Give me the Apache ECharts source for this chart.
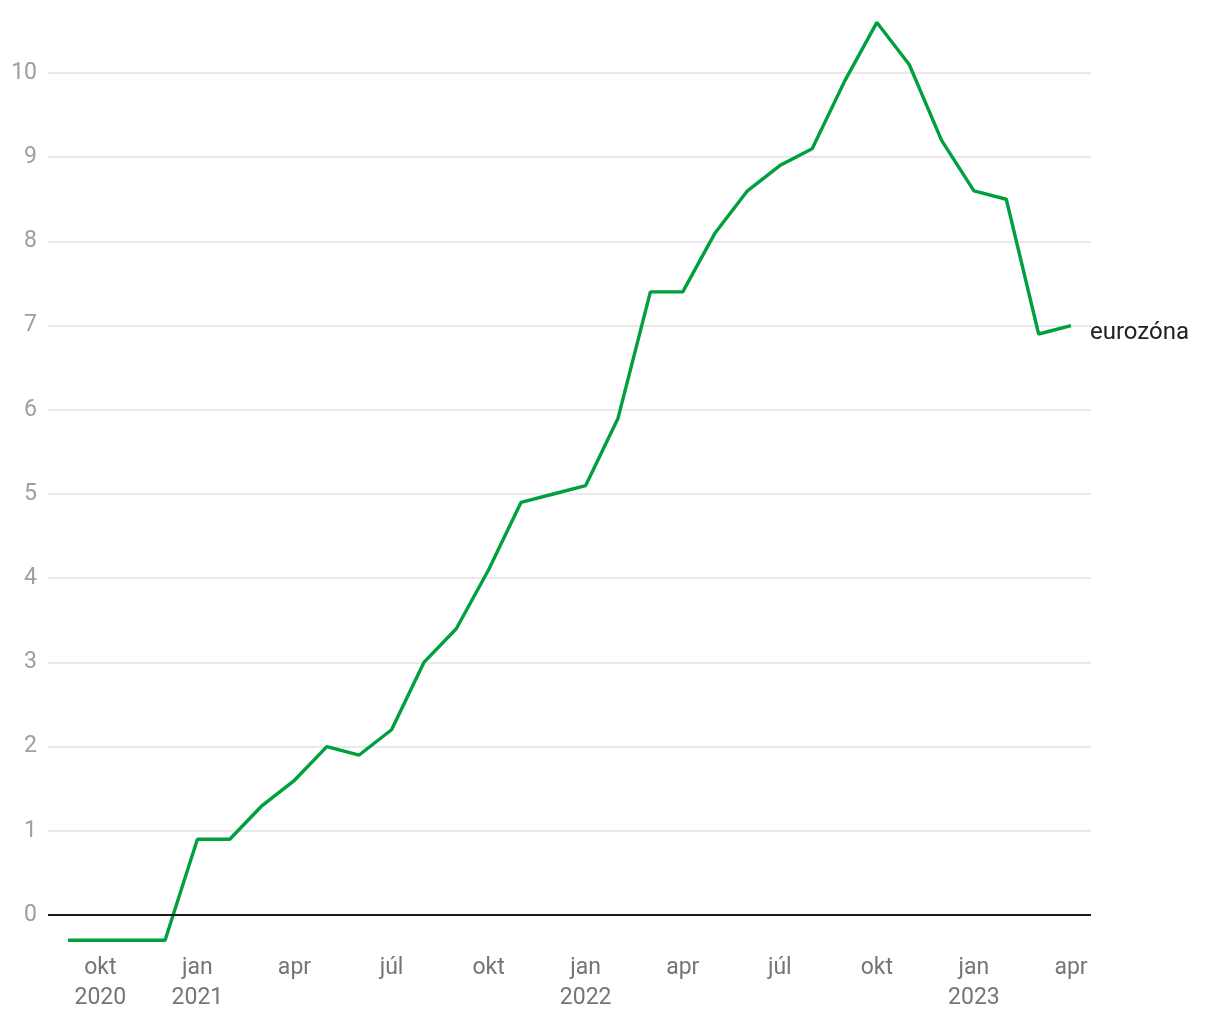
<!DOCTYPE html>
<html>
<head>
<meta charset="utf-8">
<script src="https://cdn.jsdelivr.net/npm/echarts@6/dist/echarts.min.js"></script>
<style>
html,body{margin:0;padding:0;background:#fff;}
#chart{width:1220px;height:1020px;}
</style>
</head>
<body>
<div id="chart"></div>
<script>
// Months Sep 2020 .. Apr 2023 ; index relative to Oct 2020 (okt 2020 = 0)
const months = ['2020-09','2020-10','2020-11','2020-12','2021-01','2021-02','2021-03','2021-04','2021-05','2021-06','2021-07','2021-08','2021-09','2021-10','2021-11','2021-12','2022-01','2022-02','2022-03','2022-04','2022-05','2022-06','2022-07','2022-08','2022-09','2022-10','2022-11','2022-12','2023-01','2023-02','2023-03','2023-04'];
const monthIndex = [-1,0,1,2,3,4,5,6,7,8,9,10,11,12,13,14,15,16,17,18,19,20,21,22,23,24,25,26,27,28,29,30];
const eurozone = [-0.3,-0.3,-0.3,-0.3,0.9,0.9,1.3,1.6,2.0,1.9,2.2,3.0,3.4,4.1,4.9,5.0,5.1,5.9,7.4,7.4,8.1,8.6,8.9,9.1,9.9,10.6,10.1,9.2,8.6,8.5,6.9,7.0];
const seriesName = 'eurozóna';
const xTickLabels = ['okt\n2020','jan\n2021','apr','júl','okt','jan\n2022','apr','júl','okt','jan\n2023','apr'];

const data = monthIndex.map((m, i) => [m, eurozone[i]]);

const chart = echarts.init(document.getElementById('chart'));
chart.setOption({
  animation: false,
  textStyle: { fontFamily: 'Roboto' },
  grid: { left: 48, right: 129, top: 14, bottom: 71.3, containLabel: false },
  xAxis: {
    type: 'value',
    min: -1.618,
    max: 30.618,
    minInterval: 3,
    maxInterval: 3,
    axisLine: { show: false },
    axisTick: { show: false },
    splitLine: { show: false },
    axisLabel: {
      showMinLabel: false,
      showMaxLabel: false,
      color: '#757575',
      fontSize: 23,
      lineHeight: 30,
      margin: 5,
      fontFamily: 'Roboto',
      formatter: function (v) {
        const k = Math.round(v / 3);
        if (Math.abs(v - k * 3) > 1e-6) return '';
        return xTickLabels[k] || '';
      }
    }
  },
  yAxis: {
    type: 'value',
    min: -0.4,
    max: 10.7,
    minInterval: 1,
    maxInterval: 1,
    axisLine: { show: false },
    axisTick: { show: false },
    splitLine: { show: true, showMinLine: false, showMaxLine: false, lineStyle: { color: '#e2e2e2', width: 1.5 } },
    axisLabel: {
      showMinLabel: false,
      showMaxLabel: false,
      color: '#9e9e9e',
      fontSize: 23,
      margin: 11,
      padding: [4, 0, 0, 0],
      fontFamily: 'Roboto'
    }
  },
  series: [{
    name: seriesName,
    type: 'line',
    data: data,
    symbol: 'none',
    lineStyle: { color: '#00a03e', width: 3.4 },
    itemStyle: { color: '#00a03e' },
    z: 3,
    endLabel: {
      show: true,
      formatter: seriesName,
      color: '#212121',
      fontSize: 24,
      fontFamily: 'Roboto',
      distance: 19,
      offset: [0, 7]
    },
    markLine: {
      silent: true,
      symbol: 'none',
      label: { show: false },
      lineStyle: { color: '#1a1a1a', width: 2, type: 'solid' },
      data: [{ yAxis: 0 }],
      z: 4
    }
  }]
});
</script>
</body>
</html>
